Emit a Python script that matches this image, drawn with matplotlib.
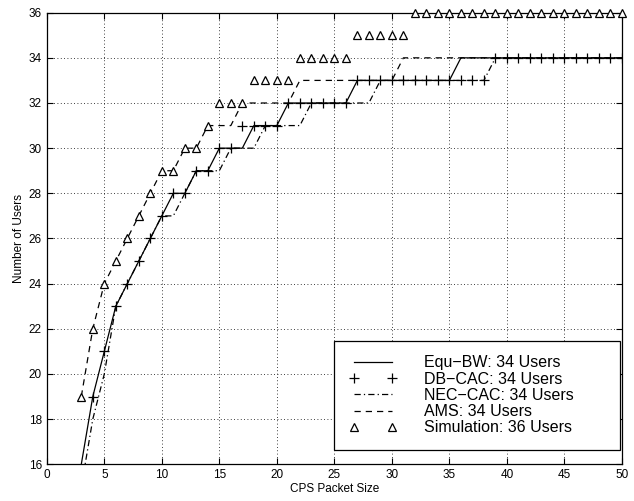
import matplotlib
matplotlib.use("Agg")
import matplotlib.pyplot as plt

plt.rcParams['font.family'] = ['Liberation Sans', 'DejaVu Sans']

packet = list(range(3, 51))
equ_bw = [16, 19, 21, 23, 24, 25, 26, 27, 28, 28, 29, 29, 30, 30, 30, 31, 31, 31,
          32, 32, 32, 32, 32, 32, 33, 33, 33, 33, 33, 33, 33, 33, 33,
          34, 34, 34, 34, 34, 34, 34, 34, 34, 34, 34, 34, 34, 34, 34]
db_packet = list(range(4, 51))
db_cac = [19, 21, 23, 24, 25, 26, 27, 28, 28, 29, 29, 30, 30, 31, 31, 31, 31,
          32, 32, 32, 32, 32, 32, 33, 33, 33, 33, 33, 33, 33, 33, 33, 33, 33, 33,
          34, 34, 34, 34, 34, 34, 34, 34, 34, 34, 34, 34]
nec_cac = [15, 18, 20, 23, 24, 25, 26, 27, 27, 28, 29, 29, 29, 30, 30, 30, 31, 31,
           31, 31, 32, 32, 32, 32, 32, 32, 33, 33, 33, 33, 33, 33, 33, 33, 33, 33,
           34, 34, 34, 34, 34, 34, 34, 34, 34, 34, 34, 34]
ams = [19, 22, 24, 25, 26, 27, 28, 29, 29, 30, 30, 31, 31, 31, 32, 32, 32, 32, 32,
       33, 33, 33, 33, 33, 33, 33, 33, 33, 34, 34, 34, 34, 34, 34, 34, 34, 34, 34,
       34, 34, 34, 34, 34, 34, 34, 34, 34, 34]
simulation = [19, 22, 24, 25, 26, 27, 28, 29, 29, 30, 30, 31, 32, 32, 32, 33, 33, 33, 33,
              34, 34, 34, 34, 34, 35, 35, 35, 35, 35,
              36, 36, 36, 36, 36, 36, 36, 36, 36, 36, 36, 36, 36, 36, 36, 36, 36, 36, 36]

labels = ['Equ\u2212BW: 34 Users', 'DB\u2212CAC: 34 Users', 'NEC\u2212CAC: 34 Users',
          'AMS: 34 Users', 'Simulation: 36 Users']
xticks = [0, 5, 10, 15, 20, 25, 30, 35, 40, 45, 50]
yticks = [16, 18, 20, 22, 24, 26, 28, 30, 32, 34, 36]

fig = plt.figure(figsize=(6.34, 5.01), dpi=100)
ax = fig.add_axes([0.0738, 0.0733, 0.9072, 0.9014])

lw = 0.9
ax.plot(packet, equ_bw, color='black', lw=lw, ls='-', label=labels[0])
ax.plot(db_packet, db_cac, color='black', lw=0, marker='+', ms=7, mew=0.9, label=labels[1])
ax.plot(packet, nec_cac, color='black', lw=lw, ls=(0, (5, 2.5, 1, 2.5)), label=labels[2])
ax.plot(packet, ams, color='black', lw=lw, ls=(0, (5, 4)), label=labels[3])
ax.plot(packet, simulation, color='black', lw=0, marker='^', ms=5.5, mfc='white',
        mec='black', mew=0.9, clip_on=False, zorder=5, label=labels[4])

ax.set_xlim(0, 50)
ax.set_ylim(16, 36)
ax.set_xticks(xticks)
ax.set_yticks(yticks)
ax.tick_params(direction='in', top=True, right=True, labelsize=8.5, length=4, width=0.8)
ax.grid(True, color='black', ls=(0, (1, 3)), lw=0.6)
for s in ax.spines.values():
    s.set_linewidth(0.9)

ax.set_xlabel('CPS Packet Size', fontsize=8.5, labelpad=1)
ax.set_ylabel('Number of Users', fontsize=8.5, labelpad=3)

leg = ax.legend(loc='lower left', bbox_to_anchor=(0.50, 0.032, 0.4965, 0.25), mode='expand',
                fontsize=11.5, numpoints=2, handlelength=3.0, handletextpad=1.7,
                labelspacing=0.08, borderpad=0.9, frameon=True, fancybox=False,
                framealpha=1, edgecolor='black', borderaxespad=0)
leg.get_frame().set_linewidth(0.9)

fig.savefig('out.png', dpi=100)
